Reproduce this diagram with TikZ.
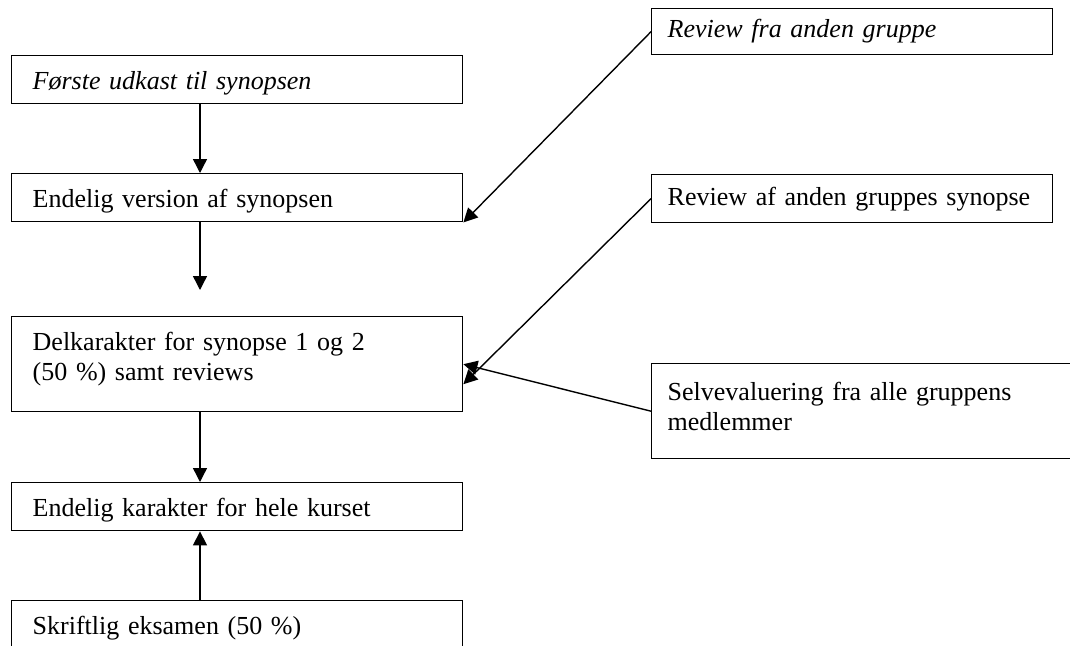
\documentclass[tikz,border=0pt]{standalone}
\usepackage{fontspec}
\setmainfont{Liberation Serif}[WordSpace=0.8]
\usetikzlibrary{arrows.meta,calc}

\tikzset{
  boks/.style={draw, line width=1.4pt, anchor=north west, inner xsep=21pt, inner ysep=0pt,
    text width=409pt, text height=34pt, text depth=14pt,
    font=\fontsize{26pt}{30pt}\selectfont},
  hboks/.style={boks, inner xsep=16pt, text width=369pt},
  pil/.style={line width=1.4pt, -{Triangle[length=14pt,width=14pt]}}
}

\begin{document}
\begin{tikzpicture}[x=1pt, y=-1pt]
    \useasboundingbox (0,0) rectangle (1070,645);
    \clip (0,0) rectangle (1070,645);
    %% Venstre kolonne
    \node[boks] (udkast) at (11,55) {\textit{Første udkast til synopsen}};
    \node[boks] (version) at (11,173) {Endelig version af synopsen};
    \node[boks, text depth=61pt] (delkar) at (11,316) {Delkarakter for synopse 1 og 2\\(50 \%) samt reviews};
    \node[boks] (endkar) at (11,482) {Endelig karakter for hele kurset};
    \node[boks, text depth=30pt] (skriftlig) at (11,600) {Skriftlig eksamen (50 \%)};
    %% Hoejre kolonne
    \node[hboks, text height=29pt, text depth=17pt] (reviewfra) at (651,8) {\textit{Review fra anden gruppe}};
    \node[hboks, text height=31pt, text depth=17pt] (reviewaf) at (651,174) {Review af anden gruppes synopse};
    \node[hboks, text width=420pt, text height=37pt, text depth=58pt] (selv) at (651,363) {Selvevaluering fra alle gruppens\\medlemmer};
    %% Pile
    \coordinate (akse) at (200,0);
    \coordinate (fri) at (200,290);
    \draw[pil] (udkast.south -| akse) -- (version.north -| akse);
    \draw[pil] (version.south -| akse) -- (fri);
    \draw[pil] (delkar.south -| akse) -- (endkar.north -| akse);
    \draw[pil] (skriftlig.north -| akse) -- (endkar.south -| akse);
    \draw[pil] (reviewfra.west) -- (version.south east);
    \draw[pil] (reviewaf.west) -- ([yshift=-20pt]delkar.east);
    \draw[pil] (selv.west) -- (delkar.east);
\end{tikzpicture}
\end{document}
